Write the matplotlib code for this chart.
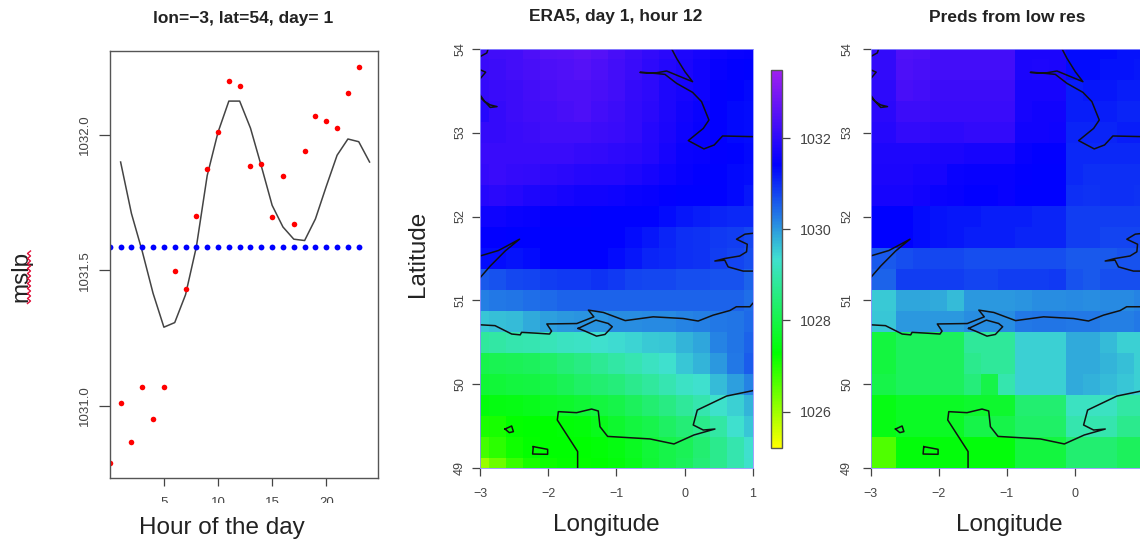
import numpy as np
import matplotlib
matplotlib.use("Agg")
import matplotlib.pyplot as plt
from matplotlib.colors import LinearSegmentedColormap, Normalize
from matplotlib.patches import Rectangle
from matplotlib.lines import Line2D

plt.rcParams['font.family'] = ['Liberation Sans', 'DejaVu Sans']

W, H = 1140, 541

# left panel: hourly series
hours_obs = list(range(0, 24))
obs = [1030.79, 1031.01, 1030.865, 1031.07, 1030.95, 1031.068, 1031.498, 1031.43,
       1031.70, 1031.873, 1032.01, 1032.20, 1032.18, 1031.885, 1031.893, 1031.697,
       1031.85, 1031.67, 1031.94, 1032.07, 1032.05, 1032.025, 1032.155, 1032.25]
hours_fit = list(range(1, 25))
fit = [1031.90, 1031.71, 1031.57, 1031.415, 1031.29, 1031.307, 1031.41, 1031.587,
       1031.85, 1032.01, 1032.125, 1032.125, 1032.025, 1031.885, 1031.74, 1031.66,
       1031.615, 1031.61, 1031.69, 1031.81, 1031.925, 1031.985, 1031.975, 1031.90]
mean_level = [1031.586] * 24

# map grids, 0.25 degree, north to south (hPa minus 1000)
lons = [-3 + 0.25 * i for i in range(17)]
lats = [54 - 0.25 * i for i in range(21)]

era5 = np.array([
    [32.2, 32.25, 32.3, 32.4, 32.5, 32.55, 32.6, 32.5, 32.35, 32.2, 32.05, 31.95, 31.8, 31.7, 31.6, 31.55, 31.5],
    [32.15, 32.2, 32.3, 32.35, 32.4, 32.45, 32.5, 32.4, 32.3, 32.15, 32.0, 31.85, 31.75, 31.65, 31.5, 31.45, 31.4],
    [32.1, 32.15, 32.2, 32.3, 32.35, 32.4, 32.4, 32.35, 32.25, 32.1, 32.0, 31.8, 31.7, 31.6, 31.45, 31.4, 31.35],
    [31.9, 32.1, 32.2, 32.25, 32.3, 32.35, 32.4, 32.3, 32.2, 32.05, 31.95, 31.8, 31.65, 31.55, 31.45, 31.35, 31.3],
    [32.1, 32.1, 32.15, 32.2, 32.25, 32.25, 32.25, 32.2, 32.15, 32.05, 31.9, 31.75, 31.6, 31.5, 31.45, 31.35, 31.3],
    [32.15, 32.15, 32.15, 32.15, 32.15, 32.15, 32.1, 32.05, 32.0, 31.95, 31.85, 31.7, 31.55, 31.5, 31.45, 31.4, 31.35],
    [32.1, 32.15, 32.1, 32.05, 32.0, 31.95, 31.9, 31.85, 31.85, 31.8, 31.7, 31.6, 31.5, 31.45, 31.4, 31.35, 31.3],
    [31.9, 31.95, 31.9, 31.8, 31.75, 31.7, 31.65, 31.65, 31.6, 31.55, 31.5, 31.45, 31.42, 31.4, 31.4, 31.35, 31.2],
    [31.6, 31.6, 31.55, 31.5, 31.45, 31.45, 31.45, 31.42, 31.42, 31.42, 31.42, 31.3, 31.2, 31.15, 31.1, 31.05, 31.05],
    [31.45, 31.45, 31.42, 31.42, 31.42, 31.42, 31.42, 31.42, 31.42, 31.3, 31.2, 31.1, 31.0, 30.95, 30.9, 30.85, 30.75],
    [31.3, 31.3, 31.25, 31.3, 31.4, 31.42, 31.42, 31.42, 31.3, 31.2, 31.1, 31.05, 31.0, 30.95, 30.85, 30.8, 30.7],
    [30.6, 30.65, 30.75, 30.8, 30.85, 30.9, 30.9, 30.95, 30.9, 30.8, 30.75, 30.75, 30.7, 30.7, 30.65, 30.65, 30.5],
    [30.25, 30.3, 30.35, 30.4, 30.45, 30.5, 30.5, 30.5, 30.5, 30.5, 30.5, 30.5, 30.5, 30.5, 30.5, 30.5, 30.4],
    [29.6, 29.65, 29.7, 29.85, 29.95, 30.0, 30.05, 30.05, 30.1, 30.1, 30.15, 30.15, 30.2, 30.25, 30.3, 30.35, 30.45],
    [28.85, 28.9, 29.0, 29.05, 29.1, 29.2, 29.25, 29.35, 29.4, 29.45, 29.55, 29.6, 29.75, 29.9, 30.2, 30.35, 30.5],
    [28.05, 28.1, 28.15, 28.2, 28.3, 28.45, 28.6, 28.75, 28.9, 29.05, 29.2, 29.35, 29.6, 29.75, 30.0, 30.3, 30.55],
    [27.8, 27.85, 27.9, 27.95, 28.0, 28.15, 28.3, 28.4, 28.5, 28.7, 28.85, 29.05, 29.25, 29.35, 29.7, 29.95, 30.2],
    [27.4, 27.45, 27.5, 27.55, 27.65, 27.7, 27.8, 27.9, 28.0, 28.2, 28.4, 28.6, 28.8, 29.0, 29.3, 29.5, 29.75],
    [27.05, 27.1, 27.25, 27.3, 27.3, 27.35, 27.4, 27.55, 27.75, 27.9, 28.05, 28.25, 28.45, 28.65, 28.9, 29.35, 29.6],
    [26.75, 26.95, 27.15, 27.25, 27.3, 27.3, 27.3, 27.35, 27.45, 27.6, 27.85, 28.0, 28.15, 28.4, 28.7, 29.0, 29.35],
    [26.05, 26.4, 26.85, 27.1, 27.2, 27.27, 27.27, 27.3, 27.4, 27.55, 27.8, 28.0, 28.2, 28.45, 28.7, 29.0, 29.3],
]) + 1000

preds = np.array([
    [32.05, 32.05, 32.45, 32.4, 32.3, 32.3, 32.3, 32.3, 32.3, 31.75, 31.75, 31.75, 31.3, 31.3, 31.3, 31.25, 31.25],
    [32.05, 32.05, 32.4, 32.35, 32.3, 32.3, 32.3, 32.3, 32.3, 31.75, 31.8, 31.75, 31.3, 31.3, 31.25, 31.25, 31.2],
    [32.0, 32.0, 32.35, 32.3, 32.2, 32.2, 32.2, 32.2, 32.2, 31.7, 31.7, 31.7, 31.15, 31.2, 31.2, 31.15, 31.15],
    [31.95, 31.95, 32.2, 32.2, 32.15, 32.15, 32.15, 32.15, 32.15, 31.7, 31.65, 31.65, 31.15, 31.15, 31.15, 31.1, 31.1],
    [31.9, 31.9, 32.05, 32.05, 32.0, 32.0, 32.05, 32.05, 32.05, 31.65, 31.65, 31.6, 31.1, 31.1, 31.1, 31.15, 31.15],
    [31.8, 31.8, 31.8, 31.8, 31.75, 31.75, 31.7, 31.7, 31.7, 31.5, 31.45, 31.45, 31.05, 31.05, 31.05, 31.05, 31.05],
    [31.75, 31.75, 31.75, 31.7, 31.7, 31.55, 31.5, 31.5, 31.5, 31.45, 31.42, 31.42, 31.05, 31.0, 31.0, 31.0, 31.0],
    [31.7, 31.7, 31.7, 31.65, 31.55, 31.5, 31.45, 31.45, 31.5, 31.42, 31.42, 31.42, 31.0, 30.95, 31.0, 31.0, 30.95],
    [31.42, 31.42, 31.4, 31.3, 31.25, 31.2, 31.2, 31.15, 31.15, 31.15, 31.1, 31.1, 30.85, 30.85, 30.85, 30.85, 30.85],
    [31.42, 31.42, 31.4, 31.3, 31.25, 31.2, 31.15, 31.15, 31.15, 31.1, 31.1, 31.1, 30.85, 30.85, 30.8, 30.8, 30.8],
    [30.6, 30.6, 30.7, 30.75, 30.75, 30.75, 30.7, 30.7, 30.7, 30.7, 30.7, 30.7, 30.6, 30.6, 30.6, 30.65, 30.65],
    [30.5, 30.5, 30.85, 30.85, 30.85, 30.85, 30.8, 30.8, 30.85, 30.85, 30.85, 30.9, 30.65, 30.6, 30.7, 30.7, 30.7],
    [29.55, 29.55, 29.9, 29.9, 29.85, 29.7, 30.0, 30.0, 30.0, 30.05, 30.1, 30.1, 30.15, 30.1, 30.15, 30.15, 30.2],
    [29.6, 29.6, 30.0, 30.0, 30.0, 30.0, 30.1, 30.1, 30.1, 30.3, 30.35, 30.35, 30.3, 30.3, 30.25, 30.25, 30.3],
    [27.9, 27.9, 28.2, 28.2, 28.2, 28.2, 28.8, 28.8, 28.8, 29.5, 29.5, 29.5, 29.85, 29.85, 29.7, 29.5, 29.5],
    [27.9, 27.9, 28.2, 28.2, 28.2, 28.2, 28.7, 28.8, 28.8, 29.5, 29.5, 29.5, 29.85, 29.85, 29.75, 29.65, 29.5],
    [28.0, 28.0, 28.2, 28.2, 28.2, 28.2, 28.5, 28.0, 29.0, 29.5, 29.5, 29.5, 29.85, 29.8, 29.7, 29.6, 29.5],
    [27.5, 27.5, 27.65, 27.65, 27.65, 27.65, 27.75, 27.75, 27.75, 28.4, 28.4, 28.4, 29.2, 29.2, 29.2, 28.9, 28.9],
    [27.5, 27.5, 27.65, 27.65, 27.65, 27.65, 28.0, 28.0, 28.0, 28.3, 28.3, 28.3, 29.0, 29.0, 29.0, 28.7, 28.7],
    [26.65, 26.65, 27.4, 27.4, 27.4, 27.4, 27.4, 27.4, 27.4, 27.9, 27.9, 27.9, 28.4, 28.4, 28.4, 28.2, 28.2],
    [26.65, 26.65, 27.4, 27.4, 27.4, 27.4, 27.4, 27.4, 27.4, 27.9, 27.9, 27.9, 28.4, 28.4, 28.4, 28.2, 28.2],
]) + 1000

# coastlines, lon/lat
coast_lon = [
    [-3, -2.90, -2.88],
    [-3, -2.917, -3],
    [-3, -2.93, -2.85, -2.75, -2.85, -2.93, -3],
    [-0.19, -0.116, 0.006, 0.118, -0.263, -0.434, -0.654, -0.434, -0.287, -0.116, 0.118, 0.25, 0.358, 0.275,
     0.055, 0.284, 0.436, 0.558, 1.0],
    [-3, -2.73, -2.42, -2.63, -2.85, -3],
    [1.0, 0.886, 0.763, 0.92, 0.91, 0.81, 0.59, 0.445, 0.59, 0.64, 0.86, 1.0],
    [-3, -2.78, -2.535, -2.41, -2.39, -2.17, -1.98, -1.95, -2.02, -1.58, -1.33, -1.41, -1.19, -0.87,
     -0.46, -0.02, 0.20, 0.42, 0.665, 0.76, 0.96, 1.0],
    [-1.56, -1.30, -1.12, -1.06, -1.167, -1.29, -1.46, -1.56],
    [-1.568, -1.568, -1.866, -1.851, -1.583, -1.363, -1.265, -1.24, -1.128, -0.507, -0.155, 0.138, 0.446,
     0.275, 0.128, 0.187, 0.617, 1.0],
    [-2.633, -2.536, -2.51, -2.57, -2.633],
    [-2.218, -2.008, -2.008, -2.228, -2.218],
]
coast_lat = [
    [53.905, 53.95, 54],
    [53.75, 53.72, 53.64],
    [53.45, 53.37, 53.30, 53.31, 53.33, 53.37, 53.42],
    [54, 53.885, 53.726, 53.607, 53.734, 53.71, 53.718, 53.706, 53.694, 53.587, 53.48, 53.369, 53.15, 53.05,
     52.905, 52.806, 52.853, 52.96, 52.952],
    [51.53, 51.595, 51.73, 51.59, 51.41, 51.27],
    [51.80, 51.79, 51.73, 51.67, 51.58, 51.53, 51.5, 51.47, 51.48, 51.40, 51.35, 51.35],
    [50.71, 50.70, 50.60, 50.59, 50.62, 50.61, 50.60, 50.635, 50.72, 50.725, 50.805, 50.885, 50.857, 50.76,
     50.805, 50.785, 50.755, 50.825, 50.88, 50.925, 50.925, 50.965],
    [50.667, 50.766, 50.726, 50.687, 50.595, 50.575, 50.635, 50.667],
    [49, 49.2, 49.575, 49.675, 49.663, 49.706, 49.683, 49.496, 49.38, 49.35, 49.29, 49.397, 49.468,
     49.456, 49.516, 49.694, 49.861, 49.925],
    [49.468, 49.504, 49.437, 49.425, 49.468],
    [49.258, 49.226, 49.167, 49.17, 49.258],
]

lat_ticks = [49, 50, 51, 52, 53, 54]
lon_ticks = [-3, -2, -1, 0, 1]
lon_labels = ['\u22123', '\u22122', '\u22121', '0', '1']
bar_ticks = [1026, 1028, 1030, 1032]

rpal = LinearSegmentedColormap.from_list('pal', ['#FFFF00', '#00FF00', '#40E0D0', '#0000FF', '#A020F0'], N=256)
norm = Normalize(1025.2, 1033.5)
grey = '#444444'


def box(x0, y0, x1, y1):
    # pixel box (y from top) to figure fractions
    return [x0 / W, 1 - y1 / H, (x1 - x0) / W, (y1 - y0) / H]


def draw_map(rect, z, n_lon, ypad):
    ax = fig.add_axes(box(*rect))
    ax.pcolormesh(lons, lats, z, cmap=rpal, norm=norm, shading='nearest', antialiased=False, rasterized=True)
    for xs, ys in zip(coast_lon, coast_lat):
        ax.plot(xs, ys, color='#111111', lw=1.1, solid_joinstyle='round')
    ax.set_xlim(-3, 1)
    ax.set_ylim(49, 54)
    ax.set_xticks(lon_ticks[:n_lon])
    ax.set_xticklabels(lon_labels[:n_lon], fontsize=9, color=grey)
    ax.set_yticks(lat_ticks)
    ax.set_yticklabels(lat_ticks, fontsize=9, color=grey, rotation=90, va='center')
    ax.tick_params(axis='x', length=6, width=0.9, color=grey, pad=8)
    ax.tick_params(axis='y', length=6, width=0.9, color=grey, pad=ypad)
    for s in ax.spines.values():
        s.set_color('#9090ff')
        s.set_linewidth(0.6)
    return ax


fig = plt.figure(figsize=(W / 100, H / 100), dpi=100)

ax1 = fig.add_axes(box(110, 51, 378, 478))
ax1.plot(hours_fit, fit, color=grey, lw=1.1)
ax1.plot(hours_obs, obs, 'o', color='#FF0000', ms=4.0, mec='none')
ax1.plot(hours_obs, mean_level, 'o', color='#0000FF', ms=4.2, mec='none')
ax1.set_xlim(0.02, 24.78)
ax1.set_ylim(1030.733, 1032.31)
ax1.set_xticks([5, 10, 15, 20])
ax1.set_yticks([1031.0, 1031.5, 1032.0])
ax1.set_yticklabels(['1031.0', '1031.5', '1032.0'], rotation=90, va='center', fontsize=9.5, color=grey)
ax1.tick_params(axis='x', labelsize=9.5, labelcolor=grey, length=6, width=0.9, color=grey, pad=8)
ax1.tick_params(axis='y', length=8, width=0.9, color=grey, pad=5.5)
for s in ax1.spines.values():
    s.set_color('#555555')
    s.set_linewidth(1.0)

ax2 = draw_map((480, 48.7, 752.7, 468.3), era5, 5, 4)
ax3 = draw_map((870.5, 48.7, 1143, 468.3), preds, 4, 6.5)

cax = fig.add_axes(box(770.7, 70, 781.7, 448))
cb = fig.colorbar(plt.cm.ScalarMappable(norm=norm, cmap=rpal), cax=cax)
cb.set_ticks(bar_ticks)
cb.set_ticklabels([str(t) for t in bar_ticks])
cb.ax.tick_params(length=6, width=0.9, color=grey, labelcolor=grey, labelsize=10.3, pad=7)
cb.outline.set_edgecolor('#555555')
cb.outline.set_linewidth(1.0)

# white band cuts the lower half of the hour tick labels
fig.add_artist(Rectangle((100 / W, 1 - 541 / H), 300 / W, 38 / H, transform=fig.transFigure,
                         fc='white', ec='none', zorder=5))

title_kw = dict(ha='center', va='baseline', fontsize=12.5, fontweight='bold', color='#222222', zorder=6)
fig.text(243 / W, 1 - 22.5 / H, 'lon=\u22123, lat=54, day= 1', **title_kw)
fig.text(616 / W, 1 - 21.5 / H, 'ERA5, day 1, hour 12', **title_kw)
fig.text(1007 / W, 1 - 21.5 / H, 'Preds from low res', **title_kw)

label_kw = dict(ha='center', va='center', fontsize=17.5, color='#222222', zorder=6)
fig.text(222 / W, 1 - 528 / H, 'Hour of the day', **label_kw)
fig.text(606 / W, 1 - 525 / H, 'Longitude', **label_kw)
fig.text(1009 / W, 1 - 525 / H, 'Longitude', **label_kw)
fig.text(418 / W, 1 - 254 / H, 'Latitude', rotation=90, **label_kw)
fig.text(21.5 / W, 1 - 276 / H, 'mslp', rotation=90, **label_kw)

# red spell-check squiggle next to mslp
sq_y = np.arange(251, 304, 2.5)
sq_x = 29 + 1.5 * (-1.0) ** np.arange(len(sq_y))
fig.add_artist(Line2D(sq_x / W, 1 - sq_y / H, color='#E0103A', lw=1.0, transform=fig.transFigure, zorder=7))

fig.savefig('out.png', dpi=100)
